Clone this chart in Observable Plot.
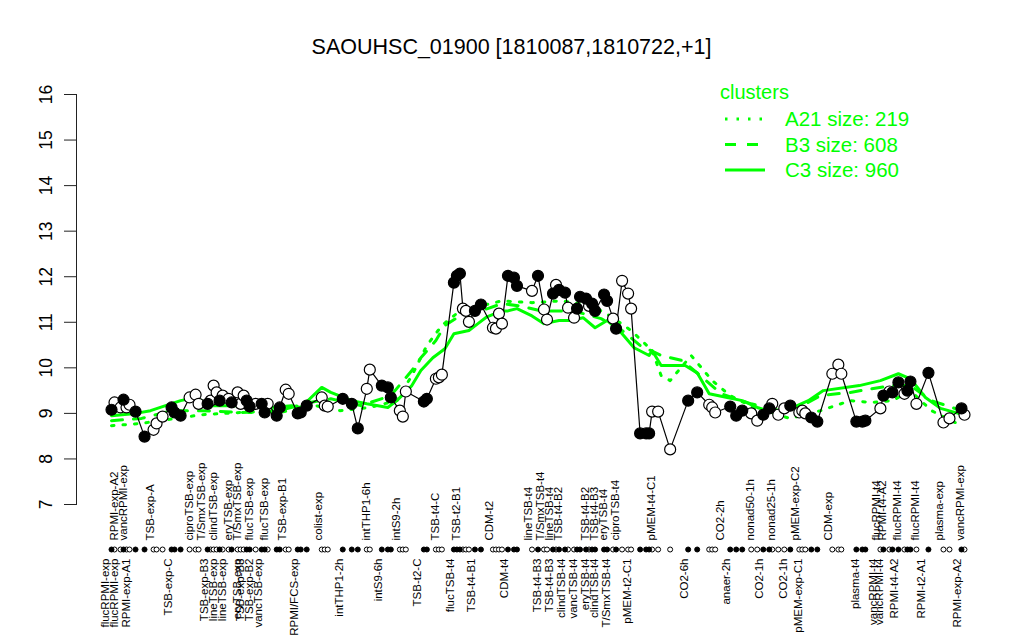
<!DOCTYPE html>
<html>
<head>
<meta charset="utf-8">
<script src="https://cdn.jsdelivr.net/npm/d3@7"></script>
<script src="https://cdn.jsdelivr.net/npm/@observablehq/plot@0.6"></script>
<style>
  body { margin: 0; background: #fff; }
  #wrap { position: relative; width: 1024px; height: 640px; font-family: "Liberation Sans", Arial, sans-serif; }
  #legend { position: absolute; left: 0; top: 0; }
</style>
</head>
<body>
<div id="wrap"></div>
<script>
const titleText = "SAOUHSC_01900 [1810087,1810722,+1]";
const yTicks = [7, 8, 9, 10, 11, 12, 13, 14, 15, 16];

// sample positions (order along the x axis), expression values, and marker fill (1 = filled)
const sampleIdx = [1,2,4,5,6,7,9,12,15,16,18,21,22,24,27,29,30,33,34,35,36,37,38,40,41,43,44,45,46,47,49,51,52,53,56,57,59,60,63,64,66,
  71,72,73,78,81,83,86,87,91,93,94,97,98,99,105,106,109,110,111,
  115,116,117,118,119,120,122,124,128,129,130,131,133,135,136,141,143,145,146,148,149,150,152,153,155,156,157,159,160,161,162,165,166,168,169,171,173,174,
  177,179,180,181,183,187,193,196,200,201,202,207,209,211,214,216,218,220,221,223,225,227,230,231,232,234,236,241,243,244,249,251,252,257,258,260,261,263,265,266,267,269,273,278,280,284,285];
const exprValues = [9.08,9.24,9.13,9.30,9.13,9.19,9.04,8.49,8.64,8.78,8.93,9.13,9.02,8.95,9.35,9.41,9.21,9.21,9.28,9.61,9.46,9.28,9.39,9.32,9.24,9.46,9.21,9.39,9.28,9.15,9.21,9.21,9.02,9.21,8.95,9.13,9.52,9.43,9.00,9.02,9.17,
  9.35,9.17,9.15,9.32,9.21,8.67,9.54,9.96,9.61,9.57,9.35,9.06,8.93,9.48,9.26,9.32,9.76,9.79,9.85,
  11.87,12.02,12.07,11.30,11.25,11.01,11.25,11.39,10.88,10.86,11.19,10.97,12.02,11.98,11.80,11.69,12.02,11.28,11.06,11.63,11.82,11.71,11.65,11.32,11.10,11.30,11.56,11.52,11.36,11.41,11.25,11.61,11.47,11.08,10.86,11.91,11.63,11.30,
  8.56,8.56,8.56,9.04,9.04,8.21,9.28,9.46,9.19,9.13,9.02,9.15,8.95,9.06,9.00,8.84,8.97,9.11,9.21,8.97,9.11,9.17,9.02,9.06,9.00,8.91,8.82,9.87,10.07,9.87,8.82,8.82,8.84,9.11,9.39,9.48,9.46,9.68,9.43,9.50,9.70,9.21,9.89,8.80,8.89,9.11,8.97];
const filledFlags = [1,0,0,1,0,0,1,1,0,0,0,1,1,1,0,0,0,1,0,0,0,1,0,0,1,0,0,0,1,1,0,1,1,0,1,1,0,0,1,1,1,
  0,0,0,1,1,1,0,0,1,1,1,0,0,0,1,1,0,0,0,
  1,1,1,0,0,0,1,1,0,0,0,0,1,1,1,0,1,0,0,1,0,1,1,0,0,1,1,1,0,1,1,1,1,0,1,0,0,0,
  1,1,1,0,0,0,1,1,0,0,0,1,1,1,0,0,1,1,0,0,0,1,0,0,0,1,1,0,0,0,1,1,1,0,1,0,1,1,0,1,1,0,1,0,0,1,0];

// cluster mean profiles
const c3Idx = [1,9,14,19,24,29,34,44,54,61,64,71,74,81,86,93,96,101,104,108,112,115,120,123,126,131,133,136,141,145,150,154,158,162,166,171,175,180,181,184,192,196,200,206,211,216,222,228,233,238,250,257,263,267,272,277,283];
const c3Val = [8.95,9.0,9.06,9.17,9.28,9.35,9.17,9.17,9.13,9.17,9.13,9.57,9.46,9.28,9.21,9.13,9.28,9.61,9.94,10.22,10.42,10.75,10.82,10.97,11.12,11.25,11.25,11.30,11.14,10.97,11.04,11.04,11.10,10.88,11.04,10.75,10.44,10.27,10.38,10.05,10.05,9.89,9.43,9.35,9.28,9.13,9.0,9.13,9.28,9.50,9.61,9.72,9.87,9.76,9.35,9.11,9.0];
const b3Idx = [1,11,21,31,44,57,67,74,84,94,101,104,109,112,117,124,131,137,144,151,157,164,171,177,184,191,197,204,214,224,231,237,247,254,261,267,274,284];
const b3Val = [8.84,8.89,9.06,9.06,9.02,9.06,9.24,9.32,9.17,9.39,9.94,10.22,10.60,10.93,11.14,11.25,11.41,11.36,11.25,11.25,11.21,11.08,10.82,10.49,10.27,10.16,9.83,9.43,9.21,9.06,9.17,9.39,9.46,9.54,9.61,9.61,9.28,9.06];
const a21Idx = [1,11,17,31,44,57,69,77,87,96,101,106,111,117,124,131,141,151,161,167,174,181,184,187,194,201,207,217,227,237,247,254,261,267,274,284];
const a21Val = [8.73,8.78,8.84,8.97,9.02,9.02,9.17,9.06,9.13,9.28,9.83,10.49,10.93,11.25,11.36,11.47,11.43,11.47,11.36,11.14,10.82,10.38,9.83,9.72,10.27,9.72,9.39,9.06,8.89,9.06,9.28,9.24,9.28,9.50,9.06,8.73];

// condition labels above and below the marker row
const topLabels = ["RPMI-exp-A2","vancRPMI-exp","TSB-exp-A","ciproTSB-exp","T/SmxTSB-exp","clindTSB-exp","eryTSB-exp","T/SmxTSB-exp","flucTSB-exp","flucTSB-exp","TSB-exp-B1","colist-exp","intTHP1-6h","intS9-2h","TSB-t4-C","TSB-t2-B1","CDM-t2","lineTSB-t4","T/SmxTSB-t4","lineTSB-t4","TSB-t4-B2","TSB-t4-B2","TSB-t4-B3","eryTSB-t4","ciproTSB-t4","pMEM-t4-C1","CO2-2h","nonad50-1h","nonad25-1h","pMEM-exp-C2","CDM-exp","flucRPMI-t4","RPMI-t4-A2","flucRPMI-t4","flucRPMI-t4","plasma-exp","vancRPMI-exp"];
const topLabelIdx = [3,6,15,28,32,36,41,44,48,53,59,71,87,97,110,117,128,141,145,148,151,160,163,166,170,182,205,215,222,230,241,257,259,264,270,278,285];
const bottomLabels = ["flucRPMI-exp","flucRPMI-exp","RPMI-exp-A1","TSB-exp-C","TSB-exp-B3","lineTSB-exp","lineTSB-exp","eryTSB-exp","TSB-exp-B3","TSB-exp-B2","vancTSB-exp","RPMI/FCS-exp","intTHP1-2h","intS9-6h","TSB-t2-C","flucTSB-t4","TSB-t4-B1","CDM-t4","TSB-t4-B3","TSB-t4-B3","clindTSB-t4","vancTSB-t4","eryTSB-t4","clindTSB-t4","T/SmxTSB-t4","pMEM-t2-C1","CO2-6h","anaer-2h","CO2-1h","CO2-1h","pMEM-exp-C1","plasma-t4","vancRPMI-t4","vancRPMI-t4","RPMI-t4-A2","RPMI-t2-A1","RPMI-exp-A2"];
const bottomLabelIdx = [0,3,7,21,33,36,39,44,45,48,51,63,78,91,104,115,122,133,144,148,152,156,160,163,167,174,193,207,218,226,231,250,256,258,263,272,284];

const legendTitle = "clusters";
const legendNames = ["A21 size: 219", "B3 size: 608", "C3 size: 960"];

// build tables
const n = Math.min(sampleIdx.length, exprValues.length, filledFlags.length);
const samples = d3.range(n).map(k => ({i: sampleIdx[k], v: exprValues[k], f: filledFlags[k] === 1}));
const zip = (xs, ys) => xs.map((x, k) => ({i: x, v: ys[k]}));
const c3 = zip(c3Idx, c3Val), b3 = zip(b3Idx, b3Val), a21 = zip(a21Idx, a21Val);
const tops = topLabels.map((t, k) => ({i: topLabelIdx[k], t}));
const bottoms = bottomLabels.map((t, k) => ({i: bottomLabelIdx[k], t}));

const green = "#00ff00";
const font = "Liberation Sans, Arial, Helvetica, sans-serif";

const chart = Plot.plot({
  width: 1024,
  height: 640,
  marginLeft: 108,
  marginRight: 58,
  marginTop: 94,
  marginBottom: 136,
  style: {fontFamily: font, background: "white", color: "black"},
  x: {domain: [0, 285.67], axis: null},
  y: {domain: [7, 16], axis: null},
  marks: [
    Plot.frame({anchor: "left", dx: -32, stroke: "#222"}),
    Plot.axisY({ticks: yTicks, label: null, tickSize: 12, dx: -32, tickRotate: -90, tickPadding: 13, fontSize: 17.5, tickFormat: d => String(d), stroke: "#222"}),
    Plot.line(a21, {x: "i", y: "v", stroke: green, strokeWidth: 3, strokeDasharray: "2.5,9"}),
    Plot.line(b3, {x: "i", y: "v", stroke: green, strokeWidth: 3, strokeDasharray: "11,11"}),
    Plot.line(c3, {x: "i", y: "v", stroke: green, strokeWidth: 3}),
    Plot.line(samples, {x: "i", y: "v", stroke: "black", strokeWidth: 1.2}),
    Plot.dot(samples.filter(d => !d.f), {x: "i", y: "v", r: 5.5, fill: "white", stroke: "black", strokeWidth: 1.2}),
    Plot.dot(samples.filter(d => d.f), {x: "i", y: "v", r: 5.5, fill: "black", stroke: "black", strokeWidth: 1.2}),
    Plot.dot(samples.filter(d => !d.f), {x: "i", frameAnchor: "bottom", dy: 45, r: 2.5, fill: "white", stroke: "black", strokeWidth: 1}),
    Plot.dot(samples.filter(d => d.f), {x: "i", frameAnchor: "bottom", dy: 45, r: 2.5, fill: "black", stroke: "black", strokeWidth: 1}),
    Plot.text(tops, {x: "i", text: "t", frameAnchor: "bottom", dy: 36, rotate: -90, textAnchor: "start", fontSize: 11.5, fill: "black"}),
    Plot.text(bottoms, {x: "i", text: "t", frameAnchor: "bottom", dy: 54, rotate: -90, textAnchor: "end", fontSize: 11.5, fill: "black"}),
    Plot.text([titleText], {text: d => d, frameAnchor: "top", lineAnchor: "middle", dy: -47, dx: -26, fontSize: 21.5, fill: "black"})
  ]
});
const wrap = document.getElementById("wrap");
wrap.appendChild(chart);

// legend overlay
const lg = d3.select(wrap).append("svg").attr("id", "legend").attr("width", 1024).attr("height", 640)
  .style("font-family", font);
lg.append("text").attr("x", 720).attr("y", 92).attr("dy", "0.35em").attr("font-size", 20).attr("fill", green).text(legendTitle);
const styles = [{dash: "2.5,9", w: 3}, {dash: "11,11", w: 3}, {dash: null, w: 3}];
legendNames.forEach((name, k) => {
  const yy = 119 + k * 25.5;
  const ln = lg.append("line").attr("x1", 725).attr("x2", 765).attr("y1", yy).attr("y2", yy)
    .attr("stroke", green).attr("stroke-width", styles[k].w);
  if (styles[k].dash) ln.attr("stroke-dasharray", styles[k].dash);
  lg.append("text").attr("x", 785).attr("y", yy).attr("dy", "0.35em").attr("font-size", 20.5).attr("fill", green).text(name);
});
</script>
</body>
</html>
